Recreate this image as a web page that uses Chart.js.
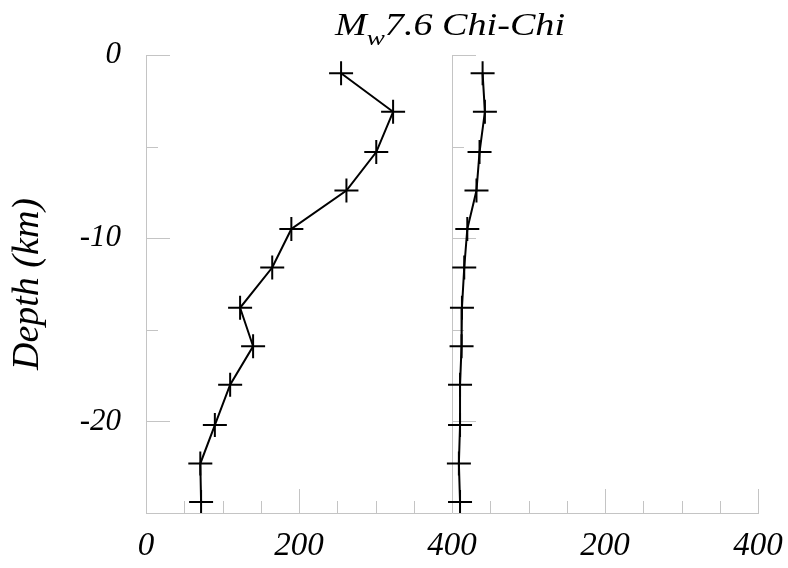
<!DOCTYPE html>
<html>
<head>
<meta charset="utf-8">
<script src="https://cdn.jsdelivr.net/npm/chart.js@4.4.1/dist/chart.umd.min.js"></script>
<style>
  html, body { margin: 0; padding: 0; background: #ffffff; }
  #wrap { width: 788px; height: 568px; }
</style>
</head>
<body>
<div id="wrap"><canvas id="c" width="788" height="568"></canvas></div>
<script>
// ---- data ----
const depths = [-1.0, -3.1, -5.3, -7.4, -9.5, -11.6, -13.8, -15.9, -18.0, -20.2, -22.3, -24.4];
const leftValues = [255, 323, 301, 262, 190, 165, 123, 140, 110, 90, 71, 72];
const rightValues = [40, 43, 36, 32, 20, 16, 13, 12.5, 10.5, 10.5, 9, 10.5];
const PANEL_OFFSET = 400;
const xTickValues = [0, 200, 400, 600, 800];
const xTickLabels = ['0', '200', '400', '200', '400'];
const yTickValues = [0, -10, -20];
const yTickLabels = ['0', '-10', '-20'];
const titleMain = 'M';
const titleSub = 'w';
const titleRest = '7.6 Chi-Chi';
const yTitle = 'Depth (km)';

const AXIS_GRAY = '#c4c4c4';
const FONT = "'Liberation Serif', 'Times New Roman', serif";

const leftData = depths.map((d, i) => ({ x: leftValues[i], y: d }));
const rightData = depths.map((d, i) => ({ x: PANEL_OFFSET + rightValues[i], y: d }));

const tickPlugin = {
  id: 'inwardTicks',
  beforeDatasetsDraw(chart) {
    const ctx = chart.ctx;
    const xs = chart.scales.x, ys = chart.scales.y;
    const bottom = ys.getPixelForValue(-25);
    const top = ys.getPixelForValue(0);
    ctx.save();
    ctx.strokeStyle = AXIS_GRAY;
    ctx.lineWidth = 1;
    for (let v = 0; v <= 800; v += 50) {
      const px = Math.round(xs.getPixelForValue(v)) + 0.5;
      const len = (v % 200 === 0) ? 24 : 12;
      ctx.beginPath();
      ctx.moveTo(px, bottom);
      ctx.lineTo(px, bottom - len);
      ctx.stroke();
    }
    const px2 = Math.round(xs.getPixelForValue(PANEL_OFFSET)) + 0.5;
    ctx.beginPath();
    ctx.moveTo(px2, top);
    ctx.lineTo(px2, bottom);
    ctx.stroke();
    const axesX = [xs.getPixelForValue(0), xs.getPixelForValue(PANEL_OFFSET)];
    for (const ax of axesX) {
      for (let v = 0; v > -25; v -= 5) {
        const py = Math.round(ys.getPixelForValue(v)) + 0.5;
        const len = (v % 10 === 0) ? 24 : 12;
        ctx.beginPath();
        ctx.moveTo(ax, py);
        ctx.lineTo(ax + len, py);
        ctx.stroke();
      }
    }
    ctx.restore();
  },
  afterDraw(chart) {
    const ctx = chart.ctx;
    ctx.save();
    ctx.fillStyle = '#000';
    ctx.textBaseline = 'alphabetic';
    const big = 'italic 31px ' + FONT;
    const small = 'italic 22px ' + FONT;
    ctx.font = big;
    const wM = ctx.measureText(titleMain).width;
    const wR = ctx.measureText(titleRest).width;
    ctx.font = small;
    const wS = ctx.measureText(titleSub).width;
    const natural = wM + wS + wR;
    const target = 230;
    const sx = target / natural;
    const cx = 450;
    const baseY = 35;
    ctx.translate(cx - target / 2, baseY);
    ctx.scale(sx, 1);
    ctx.font = big;
    ctx.fillText(titleMain, 0, 0);
    ctx.font = small;
    ctx.fillText(titleSub, wM, 10);
    ctx.font = big;
    ctx.fillText(titleRest, wM + wS, 0);
    ctx.restore();
  }
};

new Chart(document.getElementById('c'), {
  type: 'scatter',
  data: {
    datasets: [
      {
        data: leftData,
        showLine: true,
        borderColor: '#000',
        backgroundColor: '#000',
        borderWidth: 2,
        pointStyle: 'cross',
        pointRadius: 12,
        pointBorderWidth: 2,
        pointHoverRadius: 12,
        tension: 0
      },
      {
        data: rightData,
        showLine: true,
        borderColor: '#000',
        backgroundColor: '#000',
        borderWidth: 2,
        pointStyle: 'cross',
        pointRadius: 12,
        pointBorderWidth: 2,
        pointHoverRadius: 12,
        tension: 0
      }
    ]
  },
  options: {
    responsive: false,
    animation: false,
    layout: { padding: { top: 55, right: 30, bottom: 0, left: 0 } },
    plugins: { legend: { display: false }, tooltip: { enabled: false }, title: { display: false } },
    scales: {
      x: {
        type: 'linear',
        min: 0,
        max: 800,
        afterBuildTicks: (axis) => { axis.ticks = xTickValues.map(v => ({ value: v })); },
        afterFit: (axis) => { axis.height = 55; axis.paddingRight = 0; axis.paddingLeft = 0; },
        grid: { display: false, drawTicks: false },
        border: { display: true, color: AXIS_GRAY, width: 1 },
        ticks: {
          autoSkip: false,
          maxRotation: 0,
          padding: 14,
          color: '#000',
          font: { family: FONT, size: 33, style: 'italic' },
          callback: (v, i) => xTickLabels[i]
        }
      },
      y: {
        type: 'linear',
        min: -25,
        max: 0,
        afterBuildTicks: (axis) => { axis.ticks = yTickValues.map(v => ({ value: v })); },
        afterFit: (axis) => { axis.width = 146; },
        grid: { display: false, drawTicks: false },
        border: { display: true, color: AXIS_GRAY, width: 1 },
        ticks: {
          autoSkip: false,
          padding: 25,
          color: '#000',
          font: { family: FONT, size: 31, style: 'italic' },
          callback: (v, i) => yTickLabels[i]
        },
        title: {
          display: true,
          text: yTitle,
          color: '#000',
          padding: { top: 5, bottom: 0 },
          font: { family: FONT, size: 38, style: 'italic' }
        }
      }
    }
  },
  plugins: [tickPlugin]
});
</script>
</body>
</html>
